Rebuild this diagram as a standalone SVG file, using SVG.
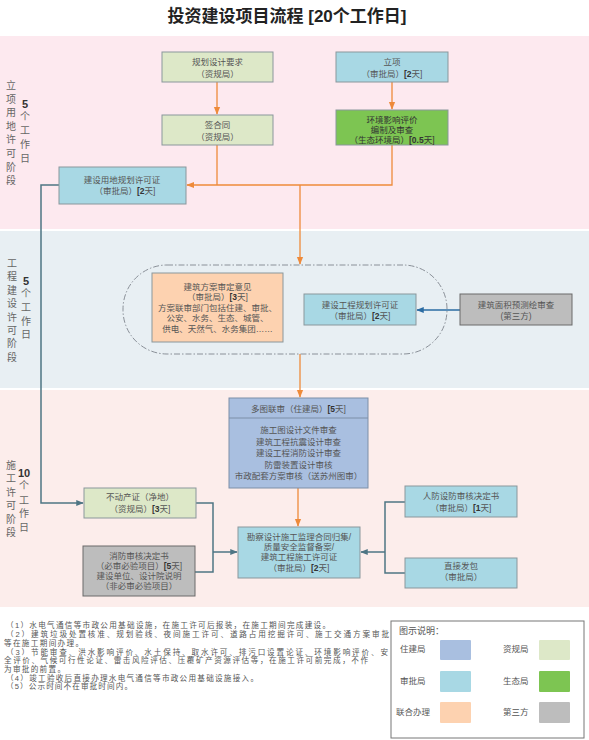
<svg xmlns="http://www.w3.org/2000/svg" width="589" height="740" viewBox="0 0 589 740">
<style>
text{font-family:"Liberation Sans","Noto Sans CJK SC",sans-serif;fill:#555;}
.t{font-size:8.5px;text-anchor:middle;}
.b{font-weight:bold;fill:#333;}
.v{font-size:10px;text-anchor:middle;fill:#666;}
.vb{font-size:11px;text-anchor:middle;font-weight:bold;fill:#333;}
.n{font-size:7.6px;}
.box{stroke:#8a979c;stroke-width:1;}
.zj{fill:#a9bfe0;}
.zg{fill:#dde8c8;}
.sp{fill:#a8d8e4;}
.st{fill:#7dc552;}
.lh{fill:#fdd2b0;}
.ds{fill:#bdbdbd;}
.or{stroke:#ee8a3a;stroke-width:1.3;fill:none;}
.sl{stroke:#4e7584;stroke-width:1.5;fill:none;}
.bl{stroke:#2b6ca3;stroke-width:1.5;fill:none;}
</style>
<defs>
<marker id="ao" viewBox="0 0 10 10" refX="9" refY="5" markerWidth="6" markerHeight="6" orient="auto"><path d="M0,1 L10,5 L0,9 z" fill="#ee8a3a"/></marker>
<marker id="as" viewBox="0 0 10 10" refX="9" refY="5" markerWidth="5" markerHeight="5" orient="auto"><path d="M0,1 L10,5 L0,9 z" fill="#4e7584"/></marker>
<marker id="ab" viewBox="0 0 10 10" refX="9" refY="5" markerWidth="5" markerHeight="5" orient="auto"><path d="M0,1 L10,5 L0,9 z" fill="#2b6ca3"/></marker>
</defs>
<rect width="589" height="740" fill="#ffffff"/>
<text x="287" y="22" style="font-size:17px;font-weight:bold;fill:#222;text-anchor:middle;">投资建设项目流程 [20个工作日]</text>
<g id="bands">
<rect x="0" y="36" width="589" height="193" fill="#fde9ef"/>
<rect x="0" y="231" width="589" height="157" fill="#e8eff3"/>
<rect x="0" y="390" width="589" height="217" fill="#fcedeb"/>
</g>
<g id="stage-labels">
<text class="v" x="11"><tspan x="11" y="89">立</tspan><tspan x="11" y="102.6">项</tspan><tspan x="11" y="116.2">用</tspan><tspan x="11" y="129.8">地</tspan><tspan x="11" y="143.4">许</tspan><tspan x="11" y="157">可</tspan><tspan x="11" y="170.6">阶</tspan><tspan x="11" y="184.2">段</tspan></text>
<text class="vb" x="25" y="108">5</text>
<text class="v"><tspan x="25" y="120">个</tspan><tspan x="25" y="134">工</tspan><tspan x="25" y="148">作</tspan><tspan x="25" y="162">日</tspan></text>
<text class="v"><tspan x="12" y="267">工</tspan><tspan x="12" y="280.4">程</tspan><tspan x="12" y="293.8">建</tspan><tspan x="12" y="307.2">设</tspan><tspan x="12" y="320.6">许</tspan><tspan x="12" y="334">可</tspan><tspan x="12" y="347.4">阶</tspan><tspan x="12" y="360.8">段</tspan></text>
<text class="vb" x="26" y="285">5</text>
<text class="v"><tspan x="26" y="297">个</tspan><tspan x="26" y="311">工</tspan><tspan x="26" y="325">作</tspan><tspan x="26" y="338">日</tspan></text>
<text class="v"><tspan x="11" y="469">施</tspan><tspan x="11" y="482.4">工</tspan><tspan x="11" y="495.8">许</tspan><tspan x="11" y="509.2">可</tspan><tspan x="11" y="522.6">阶</tspan><tspan x="11" y="536">段</tspan></text>
<text class="vb" x="24" y="477">10</text>
<text class="v"><tspan x="24" y="489">个</tspan><tspan x="24" y="504">工</tspan><tspan x="24" y="517">作</tspan><tspan x="24" y="531">日</tspan></text>
</g>
<g id="connectors">
<path class="or" d="M217,82 V114" marker-end="url(#ao)"/>
<path class="or" d="M392,82 V109" marker-end="url(#ao)"/>
<path class="or" d="M217,145 V185"/>
<path class="or" d="M392,145 V185 H187" marker-end="url(#ao)"/>
<path class="or" d="M300,185 V264" marker-end="url(#ao)"/>
<path class="or" d="M300,354 V397" marker-end="url(#ao)"/>
<path class="or" d="M298,488 V526" marker-end="url(#ao)"/>
<path class="sl" d="M59,185 H41 V503 H83" marker-end="url(#as)"/>
<path class="sl" d="M196,503 H213 V572 H195"/>
<path class="sl" d="M213,552 H237" marker-end="url(#as)"/>
<path class="sl" d="M405,502 H385 V573 H405"/>
<path class="sl" d="M385,552 H361" marker-end="url(#as)"/>
<path class="bl" d="M460,310 H417" marker-end="url(#ab)"/>
</g>
<rect id="joint-group" x="123" y="265" width="324" height="89" rx="44" ry="44" fill="none" stroke="#8a9098" stroke-width="1" stroke-dasharray="6 2 1.5 2"/>
<g id="n-guihua">
<rect class="box zg" x="162" y="52" width="111" height="30"/>
<text class="t" x="217.5" y="65">规划设计要求</text>
<text class="t" x="217.5" y="76.5">（资规局）</text>
</g>
<g id="n-hetong">
<rect class="box zg" x="162" y="115" width="111" height="30"/>
<text class="t" x="217.5" y="128">签合同</text>
<text class="t" x="217.5" y="139.5">（资规局）</text>
</g>
<g id="n-lixiang">
<rect class="box sp" x="336" y="52" width="112" height="30"/>
<text class="t" x="392" y="65">立项</text>
<text class="t" x="392" y="76.5">（审批局）<tspan class="b">[2</tspan>天]</text>
</g>
<g id="n-huanping">
<rect class="box st" x="336" y="110" width="112" height="35"/>
<text class="t" x="392" y="123" style="fill:#333">环境影响评价</text>
<text class="t" x="392" y="133" style="fill:#333">编制及审查</text>
<text class="t" x="392" y="143" style="fill:#333">（生态环境局）<tspan class="b">[0.5</tspan>天]</text>
</g>
<g id="n-yongdi">
<rect class="box sp" x="59" y="167" width="127" height="37"/>
<text class="t" x="122" y="183">建设用地规划许可证</text>
<text class="t" x="125" y="193.5">（审批局）<tspan class="b">[2</tspan>天]</text>
</g>
<g id="n-fangan">
<rect class="box lh" x="152" y="273" width="131" height="69"/>
<text class="t" x="217.5" y="290">建筑方案审定意见</text>
<text class="t" x="217.5" y="300">（审批局）<tspan class="b">[3</tspan>天]</text>
<text class="t" x="217.5" y="310.5">方案联审部门包括住建、审批、</text>
<text class="t" x="217.5" y="321">公安、水务、生态、城管、</text>
<text class="t" x="217.5" y="331.5">供电、天然气、水务集团……</text>
</g>
<g id="n-gongcheng">
<rect class="box sp" x="304" y="294" width="112" height="31"/>
<text class="t" x="360" y="308">建设工程规划许可证</text>
<text class="t" x="360" y="319">（审批局）<tspan class="b">[2</tspan>天]</text>
</g>
<g id="n-cehui">
<rect class="box ds" x="460" y="294" width="112" height="31" style="stroke:#6a6a6a"/>
<text class="t" x="516" y="308">建筑面积预测绘审查</text>
<text class="t" x="516" y="319">(第三方)</text>
</g>
<g id="n-duotu">
<rect class="box zj" x="229" y="398" width="139" height="90" style="stroke:#7d8fa8"/>
<line x1="229" y1="418" x2="368" y2="418" stroke="#7d8fa8" stroke-width="1"/>
<text class="t" x="298.5" y="411.5">多图联审（住建局）<tspan class="b">[5</tspan>天]</text>
<text class="t" x="298.5" y="433">施工图设计文件审查</text>
<text class="t" x="298.5" y="444.5">建筑工程抗震设计审查</text>
<text class="t" x="298.5" y="456">建设工程消防设计审查</text>
<text class="t" x="298.5" y="467.5">防雷装置设计审核</text>
<text class="t" x="298.5" y="479">市政配套方案审核（送苏州图审）</text>
</g>
<g id="n-budongchan">
<rect class="box zg" x="84" y="488" width="112" height="30"/>
<text class="t" x="140" y="500">不动产证（净地）</text>
<text class="t" x="140" y="511.5">（资规局）<tspan class="b">[3</tspan>天]</text>
</g>
<g id="n-xiaofang">
<rect class="box ds" x="83" y="546" width="112" height="50" style="stroke:#6a6a6a"/>
<text class="t" x="139" y="559">消防审核决定书</text>
<text class="t" x="139" y="569">（必审必验项目）<tspan class="b">[5</tspan>天]</text>
<text class="t" x="139" y="579">建设单位、设计院说明</text>
<text class="t" x="139" y="589">（非必审必验项目）</text>
</g>
<g id="n-shigong">
<rect class="box sp" x="238" y="527" width="122" height="51"/>
<text class="t" x="299" y="540">勘察设计施工监理合同归集/</text>
<text class="t" x="299" y="550">质量安全监督备案/</text>
<text class="t" x="299" y="560">建筑工程施工许可证</text>
<text class="t" x="299" y="570.5">（审批局）<tspan class="b">[2</tspan>天]</text>
</g>
<g id="n-renfang">
<rect class="box sp" x="405" y="486" width="112" height="31"/>
<text class="t" x="461" y="499">人防设防审核决定书</text>
<text class="t" x="461" y="510.5">（审批局）<tspan class="b">[1</tspan>天]</text>
</g>
<g id="n-fabao">
<rect class="box sp" x="405" y="558" width="112" height="30"/>
<text class="t" x="461" y="569">直接发包</text>
<text class="t" x="461" y="580">（审批局）</text>
</g>
<g id="notes">
<text class="n" x="6" y="628" textLength="324" lengthAdjust="spacing">（1）水电气通信等市政公用基础设施，在施工许可后报装，在施工期间完成建设。</text>
<text class="n" x="6" y="637" textLength="383" lengthAdjust="spacing">（2）建筑垃圾处置核准、规划验线、夜间施工许可、道路占用挖掘许可、施工交通方案审批</text>
<text class="n" x="4" y="645.5" textLength="79" lengthAdjust="spacing">等在施工期间办理。</text>
<text class="n" x="6" y="654.5" textLength="382" lengthAdjust="spacing">（3）节能审查、洪水影响评价、水土保持、取水许可、排污口设置论证、环境影响评价、安</text>
<text class="n" x="4" y="663" textLength="364" lengthAdjust="spacing">全评价、气候可行性论证、雷击风险评估、压覆矿产资源评估等，在施工许可前完成，不作</text>
<text class="n" x="4" y="671.5" textLength="61" lengthAdjust="spacing">为审批的前置。</text>
<text class="n" x="6" y="680.5" textLength="252" lengthAdjust="spacing">（4）竣工验收后直接办理水电气通信等市政公用基础设施接入。</text>
<text class="n" x="6" y="689" textLength="126" lengthAdjust="spacing">（5）公示时间不在审批时间内。</text>
</g>
<g id="legend">
<rect x="391" y="621" width="193" height="117" fill="#fff" stroke="#777" stroke-width="1"/>
<text x="399" y="634" style="font-size:9px">图示说明：</text>
<text x="400" y="652" style="font-size:8.5px">住建局</text>
<rect class="zj" x="440" y="640" width="31" height="20" rx="1"/>
<text x="503" y="652" style="font-size:8.5px">资规局</text>
<rect class="zg" x="539" y="640" width="31" height="20" rx="1"/>
<text x="400" y="684" style="font-size:8.5px">审批局</text>
<rect class="sp" x="440" y="671" width="31" height="21" rx="1"/>
<text x="503" y="684" style="font-size:8.5px">生态局</text>
<rect class="st" x="539" y="671" width="31" height="21" rx="1"/>
<text x="396" y="715" style="font-size:8.5px">联合办理</text>
<rect class="lh" x="440" y="702" width="31" height="21" rx="1"/>
<text x="503" y="715" style="font-size:8.5px">第三方</text>
<rect class="ds" x="539" y="702" width="31" height="21" rx="1"/>
</g>
</svg>
